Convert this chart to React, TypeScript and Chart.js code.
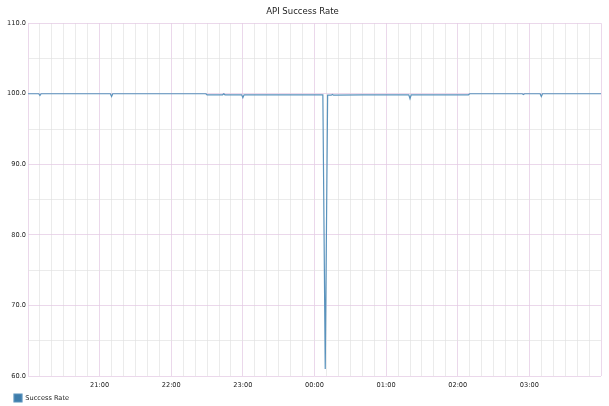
import React, { useEffect, useRef } from "react";
import { Chart, registerables } from "chart.js";

Chart.register(...registerables);

// minutes after 20:00
const times = [0, 9, 10, 11, 30, 60, 69, 70, 71, 100, 120, 149, 150, 160, 163, 164, 165, 179, 180, 181, 210, 240, 247, 249, 251, 254, 255, 256, 280, 300, 319, 320, 321, 340, 369, 370, 400, 414, 415, 416, 429, 430, 431, 460, 480];
const rates = [100, 100, 99.75, 100, 100, 100, 100, 99.6, 100, 100, 100, 100, 99.85, 99.85, 99.85, 100, 99.85, 99.85, 99.45, 99.85, 99.85, 99.85, 99.85, 61, 99.8, 99.8, 99.9, 99.8, 99.85, 99.85, 99.85, 99.3, 99.85, 99.85, 99.85, 100, 100, 100, 99.9, 100, 100, 99.6, 100, 100, 100];
const startHour = 20;
const yMin = 60;
const yMax = 110;
const title = "API Success Rate";
const seriesName = "Success Rate";

const FONT = "'DejaVu Sans', sans-serif";
const majorGrid = "rgba(226,200,226,0.7)";
const minorGrid = "rgba(225,225,225,0.65)";

const shiftLegend = {
  id: "shiftLegend",
  afterLayout(chart: any) {
    if (chart.legend) chart.legend.left += 7;
  },
};

export default function App() {
  const ref = useRef<HTMLCanvasElement>(null);
  useEffect(() => {
    document.body.style.margin = "0";
    const ctx = ref.current!;
    const chart = new Chart(ctx, {
      type: "line",
      data: {
        datasets: [
          {
            label: seriesName,
            data: times.map((t, i) => ({ x: t, y: rates[i] })),
            borderColor: "#5a93bd",
            backgroundColor: "#3e7dab",
            borderWidth: 1.2,
            pointRadius: 0,
            tension: 0,
            fill: false,
          },
        ],
      },
      plugins: [shiftLegend],
      options: {
        animation: false,
        responsive: false,
        maintainAspectRatio: false,
        layout: { padding: { left: 4, right: 8, top: 0, bottom: -6 } },
        plugins: {
          title: {
            display: true,
            text: title,
            color: "#222",
            font: { family: FONT, size: 8.5, weight: "normal" },
            padding: { top: 7, bottom: 6 },
          },
          legend: {
            position: "bottom",
            align: "start",
            labels: {
              boxWidth: 8,
              boxHeight: 8,
              padding: 3,
              color: "#222",
              font: { family: FONT, size: 6.6 },
            },
          },
          tooltip: { enabled: false },
        },
        scales: {
          x: {
            type: "linear",
            min: 0,
            max: 480,
            border: { display: false },
            grid: {
              drawTicks: false,
              color: (c: any) => (c.tick && c.tick.value % 60 === 0 ? majorGrid : minorGrid),
              lineWidth: 1,
            },
            ticks: {
              stepSize: 10,
              autoSkip: false,
              maxRotation: 0,
              padding: 5,
              color: "#222",
              font: { family: FONT, size: 6.6 },
              callback: (v: any) => {
                const n = Number(v);
                if (n % 60 !== 0 || n <= 0 || n >= 480) return "";
                const h = (startHour + n / 60) % 24;
                return String(h).padStart(2, "0") + ":00";
              },
            },
            afterFit: (s: any) => {
              s.height = 15;
            },
          },
          y: {
            min: yMin,
            max: yMax,
            border: { display: false },
            grid: {
              drawTicks: false,
              color: (c: any) => (c.tick && c.tick.value % 10 === 0 ? majorGrid : minorGrid),
            },
            ticks: {
              stepSize: 5,
              padding: 2,
              color: "#222",
              font: { family: FONT, size: 6.6 },
              callback: (v: any) => {
                const n = Number(v);
                return n % 10 === 0 ? n.toFixed(1) : "";
              },
            },
            afterFit: (s: any) => {
              s.width = 24;
            },
          },
        },
      },
    });
    return () => chart.destroy();
  }, []);
  return (
    <div style={{ position: "absolute", left: 0, top: 0, width: 609, height: 406 }}>
      <canvas ref={ref} width={609} height={406} style={{ width: 609, height: 406 }} />
    </div>
  );
}
